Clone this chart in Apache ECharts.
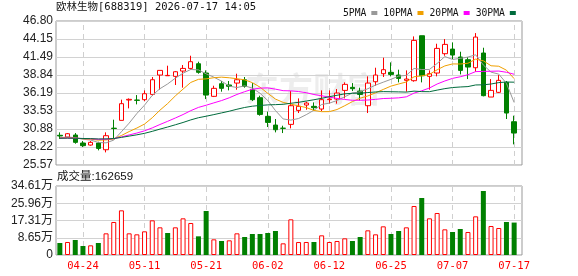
<!DOCTYPE html>
<html><head><meta charset="utf-8">
<script src="https://cdn.jsdelivr.net/npm/echarts@6/dist/echarts.min.js"></script>
<style>html,body{margin:0;padding:0;background:#fff}#c{width:578px;height:276px}</style>
</head><body><div id="c"></div>
<script>
const dates = ['04-21','04-22','04-23','04-24','04-27','04-28','04-29','04-30','05-06','05-07','05-08','05-11','05-12','05-13','05-14','05-15','05-18','05-19','05-20','05-21','05-22','05-25','05-26','05-27','05-28','05-29','06-01','06-02','06-03','06-04','06-05','06-08','06-09','06-10','06-11','06-12','06-15','06-16','06-17','06-18','06-22','06-23','06-24','06-25','06-26','06-29','06-30','07-01','07-02','07-03','07-06','07-07','07-08','07-09','07-10','07-13','07-14','07-15','07-16','07-17'];
const tickDates = ['04-24','05-11','05-21','06-02','06-12','06-25','07-07','07-17'];
const openP = [29.95,29.69,29.99,28.81,28.51,28.81,27.82,31.00,32.15,35.15,35.15,35.20,35.98,38.83,38.73,38.64,39.42,39.81,40.50,39.13,35.69,37.55,37.37,37.65,38.14,36.67,35.49,32.74,31.46,31.00,31.56,33.62,34.41,34.22,33.82,35.20,35.29,36.57,37.02,36.47,34.31,37.85,39.03,39.23,38.83,38.05,38.00,44.63,38.64,39.13,41.98,42.66,41.49,41.09,39.91,42.08,35.59,36.28,37.75,31.95];
const closeP = [29.85,30.18,28.91,28.42,28.91,28.02,29.89,30.95,34.61,35.25,35.10,36.08,38.14,39.52,38.78,39.32,39.81,40.80,39.23,35.88,36.87,36.87,37.17,38.14,37.16,35.20,33.03,31.85,30.77,30.97,34.31,34.22,34.70,34.02,35.20,35.29,36.18,37.46,36.82,35.98,37.65,38.83,39.62,38.93,38.34,38.24,43.94,38.73,39.03,42.76,43.35,41.78,39.52,40.01,44.43,35.79,36.57,38.05,33.23,30.28];
const lowP = [29.40,29.59,28.71,28.22,28.42,27.73,27.43,29.50,32.15,33.92,34.51,35.00,35.79,36.67,38.73,37.36,36.97,39.62,39.03,35.29,35.59,36.38,36.57,36.67,36.97,35.00,32.84,31.17,30.38,30.28,30.97,33.23,33.72,33.62,33.52,34.61,34.61,35.39,36.47,35.10,33.23,37.26,38.54,38.64,37.75,36.38,37.85,37.75,36.67,38.64,41.68,41.19,38.93,38.24,39.32,35.69,35.59,36.18,32.35,28.61];
const highP = [30.38,30.28,30.28,29.10,29.10,29.00,30.38,32.25,35.20,35.39,35.88,36.57,38.54,39.52,40.21,39.42,40.31,41.68,40.80,39.52,37.26,37.95,37.95,39.03,38.54,37.65,35.79,33.43,32.35,31.36,36.47,35.39,34.90,34.80,36.57,36.57,36.77,37.75,37.65,36.97,38.64,39.91,41.39,40.70,39.62,39.52,44.53,44.63,39.52,43.45,44.14,43.65,42.27,41.49,45.02,42.86,38.24,38.83,37.95,32.84];
const ma5 = [29.57,29.71,29.59,29.37,29.25,28.89,28.83,29.24,30.48,31.74,33.16,34.40,35.84,36.82,37.52,38.37,39.11,39.65,39.59,39.01,38.52,37.93,37.20,36.99,37.24,36.91,36.14,35.08,33.60,32.36,32.19,32.42,32.99,33.64,34.49,34.69,35.08,35.63,36.19,36.35,36.82,37.35,37.78,38.20,38.67,38.79,39.81,39.64,39.66,40.54,41.56,41.13,41.29,41.48,41.82,40.31,39.26,38.97,37.61,34.78];
const ma10 = [29.54,29.60,29.54,29.44,29.38,29.23,29.27,29.41,29.92,30.50,31.02,31.61,32.54,33.65,34.63,35.76,36.76,37.74,38.20,38.27,38.44,38.52,38.43,38.29,38.13,37.71,37.04,36.14,35.29,34.80,34.55,34.28,34.04,33.62,33.43,33.44,33.75,34.31,34.92,35.42,35.75,36.21,36.71,37.20,37.51,37.81,38.58,38.71,38.93,39.61,40.18,40.47,40.46,40.57,41.18,40.93,40.20,40.13,39.55,38.30];
const ma20 = [29.52,29.55,29.52,29.47,29.44,29.36,29.38,29.46,29.71,30.00,30.28,30.61,31.04,31.54,32.01,32.50,33.01,33.58,34.06,34.38,34.73,35.07,35.48,35.97,36.38,36.74,36.90,36.94,36.75,36.53,36.50,36.40,36.23,35.96,35.78,35.57,35.39,35.23,35.11,35.11,35.15,35.25,35.37,35.41,35.47,35.62,36.17,36.51,36.92,37.51,37.96,38.34,38.58,38.88,39.34,39.37,39.39,39.42,39.24,38.95];
const ma30 = [29.51,29.53,29.51,29.48,29.46,29.41,29.42,29.47,29.64,29.83,30.02,30.24,30.53,30.86,31.17,31.50,31.84,32.22,32.54,32.76,33.00,33.25,33.50,33.79,34.05,34.24,34.35,34.43,34.47,34.52,34.67,34.81,35.00,35.19,35.40,35.64,35.85,36.06,36.14,36.16,36.25,36.34,36.39,36.37,36.35,36.32,36.46,36.39,36.38,36.61,36.83,36.99,37.07,37.13,37.37,37.39,37.51,37.72,37.80,37.78];
const volume = [60192,65208,75240,45144,48488,60192,108680,165528,224048,108680,103664,118712,173888,138776,110352,138776,183920,160512,93632,220704,78584,70224,73568,108680,90288,105336,105336,110352,120384,58520,178904,65000,65208,65208,98648,65208,70224,83600,70224,90288,123728,103664,143792,105336,120384,138776,245784,285912,183920,210672,128744,115368,130416,115368,193952,321024,145464,135432,165528,162659];
const volUp = [0,1,0,0,1,0,1,1,1,1,1,1,1,1,0,1,1,1,0,0,1,0,1,1,0,0,0,0,0,1,1,1,1,0,1,1,1,1,0,0,1,1,1,0,0,1,1,0,1,1,1,0,0,1,1,0,1,1,0,0];
const priceTicks = ['25.57','28.22','30.88','33.53','36.19','38.84','41.49','44.15','46.80'];
const volTicks = ['0','8.65万','17.31万','25.96万','34.61万'];
const maNames = ['5PMA','10PMA','20PMA','30PMA'];
const maColors = ['#999999','#f0a000','#ff00ff','#006b3c'];
const titleText = '欧林生物[688319] 2026-07-17 14:05';
const volText = '成交量:162659';

const pMin = 25.57, pMax = 46.80, pInt = (pMax - pMin) / 8;
const vMax = 346100, vInt = vMax / 4;

const chart = echarts.init(document.getElementById('c'), null, {renderer: 'canvas'});
const labelFont = {fontSize: 12, fontFamily: '"Liberation Sans", "Noto Sans CJK SC"', color: '#222'};
const vlineStyle = {type: [5, 4], color: '#cfcfcf', width: 1};
const markVLines = {
  silent: true, z: 1, symbol: ['none', 'none'], label: {show: false}, lineStyle: vlineStyle,
  animation: false, data: tickDates.map(d => ({xAxis: d}))
};
const blank = dates.map(() => '-');
const mas = [ma5, ma10, ma20, ma30];
chart.setOption({
  animation: false,
  backgroundColor: '#fff',
  legend: {
    data: maNames, left: 338, top: 3, align: 'right', icon: 'rect',
    itemWidth: 6, itemHeight: 4, itemGap: 6, selectedMode: false,
    textStyle: {fontSize: 9.7, fontFamily: '"DejaVu Sans Mono"', color: '#111', padding: 0}
  },
  graphic: [
    {type: 'text', left: 56, top: 2, style: {text: titleText, font: '10.5px "DejaVu Sans Mono", "Noto Sans CJK SC"', fill: '#111'}},
    {type: 'text', left: 57, top: 171, style: {text: volText, font: '11.5px "Liberation Sans", "Noto Sans CJK SC"', fill: '#111'}},
    {type: 'text', left: 245, top: 72, z: -1, style: {text: '东方财富', font: 'bold 34px "Noto Sans CJK SC"', fill: 'rgba(0,0,0,0.07)'}}
  ],
  grid: [
    {left: 56, top: 21, width: 466, height: 144, show: true, borderColor: '#999', borderWidth: 1, backgroundColor: 'transparent'},
    {left: 56, top: 21, width: 462, height: 144},
    {left: 56, top: 186, width: 466, height: 69, show: true, borderColor: '#999', borderWidth: 1, backgroundColor: 'transparent'},
    {left: 56, top: 186, width: 462, height: 69}
  ],
  xAxis: [
    {gridIndex: 0, type: 'value', min: 0, max: 1, show: false},
    {gridIndex: 1, type: 'category', data: dates, show: false},
    {gridIndex: 2, type: 'value', min: 0, max: 1, show: false},
    {gridIndex: 3, type: 'category', data: dates, axisLine: {show: false}, axisTick: {show: false},
     splitLine: {show: false},
     axisLabel: {interval: (i, v) => tickDates.includes(v), color: '#ff0000', fontSize: 10.5, fontFamily: '"DejaVu Sans Mono"', margin: 6}}
  ],
  yAxis: [
    {gridIndex: 0, type: 'value', min: pMin, max: pMax, interval: pInt,
     axisLine: {show: false}, axisTick: {show: false},
     splitLine: {show: true, lineStyle: {color: '#d2d2d2', width: 1}},
     axisLabel: Object.assign({margin: 3, formatter: v => priceTicks[Math.round((v - pMin) / pInt)]}, labelFont)},
    {gridIndex: 1, type: 'value', min: pMin, max: pMax, show: false, splitLine: {show: false}},
    {gridIndex: 2, type: 'value', min: 0, max: vMax, interval: vInt,
     axisLine: {show: false}, axisTick: {show: false},
     splitLine: {show: true, lineStyle: {color: '#d2d2d2', width: 1}},
     axisLabel: Object.assign({margin: 3, formatter: v => volTicks[Math.round(v / vInt)]}, labelFont)},
    {gridIndex: 3, type: 'value', min: 0, max: vMax, show: false, splitLine: {show: false}}
  ],
  series: [
    {type: 'line', xAxisIndex: 1, yAxisIndex: 1, data: blank, symbol: 'none', z: 1, silent: true, markLine: markVLines},
    {type: 'line', xAxisIndex: 3, yAxisIndex: 3, data: blank, symbol: 'none', z: 1, silent: true, markLine: markVLines},
    {type: 'candlestick', xAxisIndex: 1, yAxisIndex: 1, barWidth: 5, z: 3,
     itemStyle: {color: '#ffffff', color0: '#008000', borderColor: '#ff0000', borderColor0: '#008000', borderWidth: 1},
     data: dates.map((d, i) => [openP[i], closeP[i], lowP[i], highP[i]])},
    ...maNames.map((n, k) => ({
      name: n, type: 'line', xAxisIndex: 1, yAxisIndex: 1, data: mas[k], symbol: 'none',
      color: maColors[k], lineStyle: {width: 1, color: maColors[k]}, z: 4
    })),
    {type: 'bar', xAxisIndex: 3, yAxisIndex: 3, barWidth: 5, z: 3,
     data: volume.map((v, i) => ({value: v, itemStyle: volUp[i]
        ? {color: '#ffffff', borderColor: '#ff0000', borderWidth: 1}
        : {color: '#008000', borderColor: '#008000', borderWidth: 0}}))}
  ]
});
</script>
</body></html>
